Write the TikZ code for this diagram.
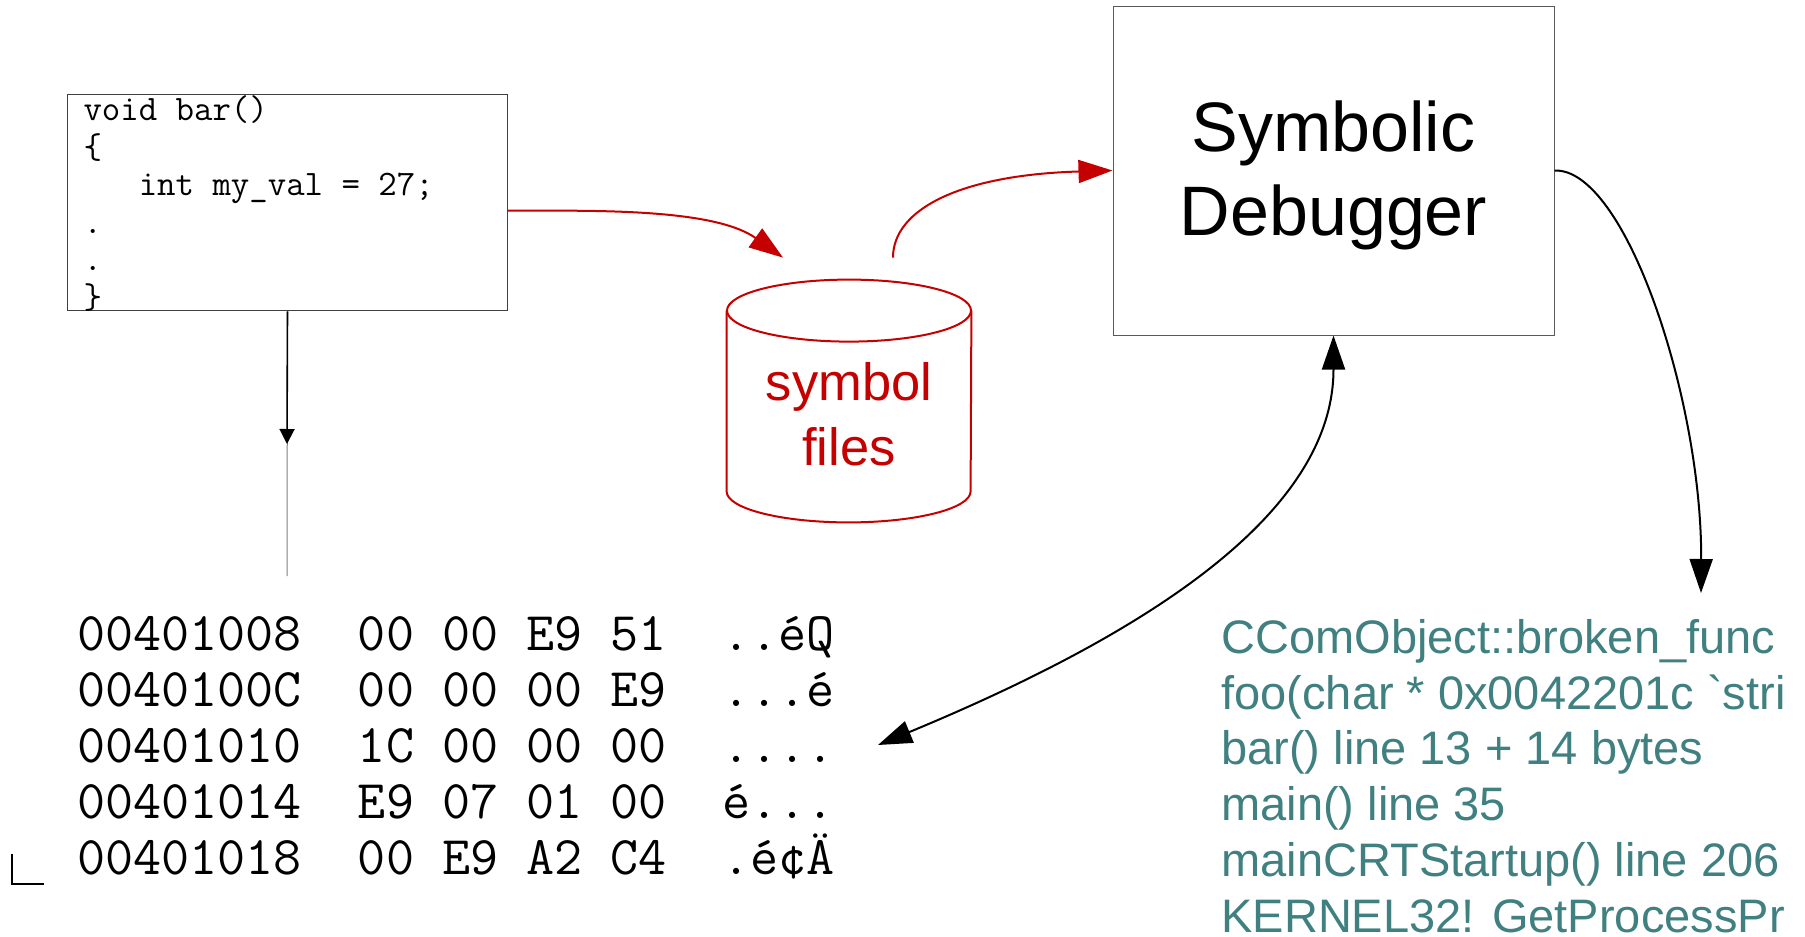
\documentclass[tikz,border=0pt]{standalone}
\usepackage{fontspec}
\setmainfont{Liberation Sans}
\usepackage{tikz}
\usetikzlibrary{arrows.meta, calc}
\definecolor{symred}{RGB}{197,0,0}
\definecolor{tracegreen}{RGB}{64,128,128}
% typewriter text with full-width spaces
\DeclareRobustCommand{\fixedspaces}{\spaceskip 0.5142em\relax\xspaceskip 0.5142em\relax}

\begin{document}
\begin{tikzpicture}[x=0.5pt, y=-0.5pt,
            codebox/.style={rectangle, draw=black!75, line width=0.5pt, anchor=north west, inner xsep=8pt, inner ysep=0pt, text width=204pt, align=flush left, text height=13pt, font=\ttfamily\fontsize{17.9}{18.75}\selectfont\fixedspaces, execute at begin node=\fixedspaces},
            debugbox/.style={rectangle, draw=black!65, line width=0.5pt, minimum width=220.5pt, minimum height=164.5pt, align=center, text depth=2pt, font=\fontsize{35}{42}\selectfont},
            symfile/.style={rectangle, inner sep=0pt, minimum width=122pt, minimum height=121pt, text=symred, align=center, text height=64pt, text depth=0pt, font=\fontsize{26.25}{32.5}\selectfont},
            cylline/.style={symred, line width=1pt},
            dumptext/.style={anchor=base west, inner sep=0pt, align=left, font=\ttfamily\fontsize{27.25}{28}\selectfont\fixedspaces},
            tracetext/.style={anchor=base west, inner sep=0pt, align=left, text=tracegreen, font=\fontsize{23.5}{27.85}\selectfont},
            bigtip/.style={>={Triangle[length=17pt, width=11.5pt]}},
            redarrow/.style={symred, line width=1pt, bigtip, ->},
            arrow/.style={black, line width=1pt, bigtip, ->},
            twoway/.style={black, line width=1pt, bigtip, <->}
        ]
        \useasboundingbox (0,0) rectangle (1805,937);

        % Source code
        \node[codebox] (code) at (67,94) {void bar()\\ \{\\ \hphantom{xxx}int my\_val = 27;\\ .\\ .\\ \}};

        % Debugger
        \node[debugbox] (debugger) at (1333.5,170.5) {Symbolic\\Debugger};

        % Symbol files (drum outline drawn round the node)
        \node[symfile] (symbols) at (849,401) {symbol\\files};
        \draw[cylline] ([yshift=-15.5pt]symbols.north) ellipse [x radius=122, y radius=31];
        \draw[cylline] ([yshift=-15.5pt]symbols.north west) -- ([yshift=15.5pt]symbols.south west)
            arc [start angle=180, end angle=0, x radius=122, y radius=31] -- ([yshift=-15.5pt]symbols.north east);

        % Memory dump
        \node[dumptext] (dump) at (77,874) {00401008\ \ 00 00 E9 51\ \ ..éQ\\
            0040100C\ \ 00 00 00 E9\ \ ...é\\
            00401010\ \ 1C 00 00 00\ \ ....\\
            00401014\ \ E9 07 01 00\ \ é...\\
            00401018\ \ 00 E9 A2 C4\ \ .é¢Ä};

        % Call stack
        \node[tracetext] (trace) at (1221,932) {CComObject::broken\_func\\
            foo(char * 0x0042201c \textasciigrave stri\\
            bar() line 13 + 14 bytes\\
            main() line 35\\
            mainCRTStartup() line 206\\
            KERNEL32! GetProcessPr};

        % Arrow ends
        \coordinate (codeTip) at (287,444);
        \coordinate (codeEnd) at (287,576);
        \coordinate (symIn) at ($(symbols.north)+(-66,-22)$);
        \coordinate (symOut) at ($(symbols.north)+(44,-22)$);
        \coordinate (dumpIn) at (878,745);
        \coordinate (traceIn) at (1701,593);

        % Arrows
        \draw[black!50, line width=0.5pt] (code.south) -- (codeEnd);
        \draw[line width=0.8pt, ->, >={Triangle[length=7.5pt, width=7.5pt]}] (code.south) -- (codeTip);
        \draw[redarrow] ([yshift=-4pt]code.east) .. controls +(80,0) and +(-70,-50) .. (symIn);
        \draw[redarrow] (symOut) .. controls +(0,-48) and +(-153,4.5) .. (debugger.west);
        \draw[arrow] (debugger.east) .. controls +(71,-2.5) and +(1,-193) .. (traceIn);
        \draw[twoway] (debugger.south) .. controls +(0,165) and +(302,-125) .. (dumpIn);

        % Corner mark
        \draw[line width=0.8pt] (12,854) |- (44,884);

    \end{tikzpicture}
\end{document}
